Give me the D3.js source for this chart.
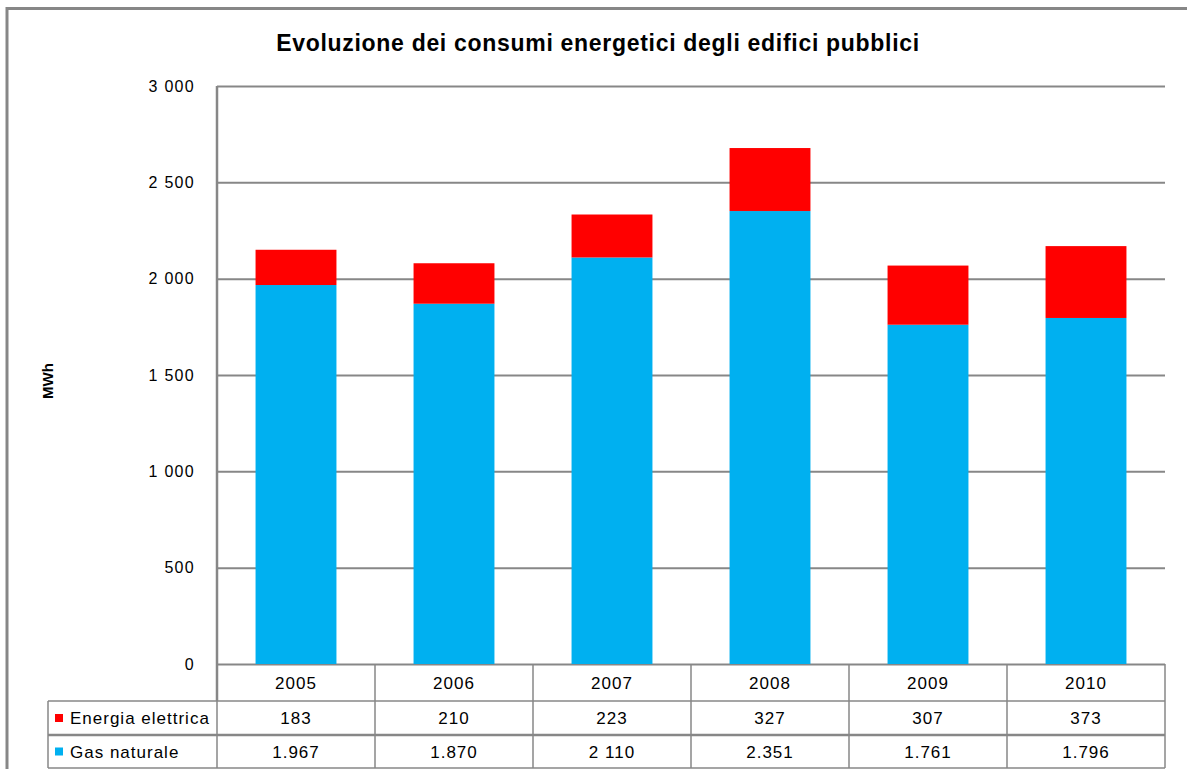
<!DOCTYPE html>
<html>
<head>
<meta charset="utf-8">
<script src="https://cdn.jsdelivr.net/npm/d3@7"></script>
<style>
	body { margin: 0; background: #fff; }
	svg { display: block; font-family: Arial, "Liberation Sans", sans-serif; }
	.tick-label { font-size: 16px; fill: #000; letter-spacing: 1.3px; }
	.cell-text { font-size: 17px; fill: #000; letter-spacing: 1px; }
</style>
</head>
<body>
<div class="chart"></div>
<script>
var years = ["2005", "2006", "2007", "2008", "2009", "2010"];
var elettrica = [183, 210, 223, 327, 307, 373];
var gas = [1967, 1870, 2110, 2351, 1761, 1796];
var elettricaLabels = ["183", "210", "223", "327", "307", "373"];
var gasLabels = ["1.967", "1.870", "2 110", "2.351", "1.761", "1.796"];
var seriesNames = ["Energia elettrica", "Gas naturale"];
var seriesColors = ["#ff0000", "#00b0f0"];
var yTicks = [0, 500, 1000, 1500, 2000, 2500, 3000];
var yTickLabels = ["0", "500", "1 000", "1 500", "2 000", "2 500", "3 000"];

var W = 1187, H = 769;
var plotLeft = 217, plotRight = 1165, plotTop = 86, plotBottom = 664;
var rowTops = [664, 701, 735, 768];
var legendLeft = 48;
var gridColor = "#878787";

drawChart();

function drawChart() {
	var svg = d3.select(".chart")
				.append("svg")
				.attr("width", W)
				.attr("height", H);

	// outer frame, cut by the picture edges
	svg.append("rect")
		.attr("x", 7)
		.attr("y", 8.5)
		.attr("width", W + 20)
		.attr("height", H + 20)
		.attr("fill", "none")
		.attr("stroke", gridColor)
		.attr("stroke-width", 3);

	svg.append("text")
		.attr("x", 598)
		.attr("y", 51)
		.attr("text-anchor", "middle")
		.style("font-size", "23px")
		.style("font-weight", "bold")
		.style("letter-spacing", "0.7px")
		.text("Evoluzione dei consumi energetici degli edifici pubblici");

	var x = d3.scaleBand().domain(years).range([plotLeft, plotRight]).padding(0);
	var y = d3.scaleLinear().domain([0, 3000]).range([plotBottom, plotTop]);

	// gridlines + tick labels
	var yAxis = d3.axisLeft(y)
				.tickValues(yTicks)
				.tickSize(-(plotRight - plotLeft))
				.tickPadding(22)
				.tickFormat(function(d, i) { return yTickLabels[i]; });

	var axisG = svg.append("g")
				.attr("transform", "translate(" + plotLeft + ",0)")
				.call(yAxis);
	axisG.select(".domain").remove();
	axisG.selectAll(".tick line")
		.attr("stroke", gridColor)
		.attr("stroke-width", 2);
	axisG.selectAll(".tick text")
		.attr("class", "tick-label")
		.attr("dy", "0.32em");
	axisG.attr("font-family", null).attr("font-size", null);

	svg.append("text")
		.attr("transform", "translate(53," + 381 + ") rotate(-90)")
		.attr("text-anchor", "middle")
		.style("font-size", "15px")
		.style("font-weight", "bold")
		.text("MWh");

	// stacked bars
	var barInset = x.bandwidth() * 0.244;
	var barWidth = x.bandwidth() - 2 * barInset;
	for (var i = 0; i < years.length; i++) {
		var x0 = x(years[i]) + barInset;
		svg.append("rect")
			.attr("x", x0)
			.attr("y", y(gas[i]))
			.attr("width", barWidth)
			.attr("height", y(0) - y(gas[i]))
			.attr("fill", seriesColors[1]);
		svg.append("rect")
			.attr("x", x0)
			.attr("y", y(gas[i] + elettrica[i]))
			.attr("width", barWidth)
			.attr("height", y(gas[i]) - y(gas[i] + elettrica[i]))
			.attr("fill", seriesColors[0]);
	}

	// left axis line down through the year row
	svg.append("line")
		.attr("x1", plotLeft).attr("x2", plotLeft)
		.attr("y1", plotTop).attr("y2", rowTops[1])
		.attr("stroke", gridColor)
		.attr("stroke-width", 2.5);

	drawTable(svg, x);
}

function drawTable(svg, x) {
	var lineAttr = function(sel, w) {
		sel.attr("stroke", gridColor).attr("stroke-width", w || 1.5);
	};

	// horizontal rules
	svg.append("line").attr("x1", legendLeft).attr("x2", plotRight)
		.attr("y1", rowTops[1]).attr("y2", rowTops[1]).call(lineAttr);
	svg.append("line").attr("x1", legendLeft).attr("x2", plotRight)
		.attr("y1", rowTops[2]).attr("y2", rowTops[2]).call(lineAttr, 2.5);
	svg.append("line").attr("x1", legendLeft).attr("x2", plotRight)
		.attr("y1", rowTops[3]).attr("y2", rowTops[3]).call(lineAttr);

	// vertical rules
	svg.append("line").attr("x1", legendLeft).attr("x2", legendLeft)
		.attr("y1", rowTops[1]).attr("y2", rowTops[3]).call(lineAttr);
	svg.append("line").attr("x1", plotLeft).attr("x2", plotLeft)
		.attr("y1", rowTops[1]).attr("y2", rowTops[3]).call(lineAttr);
	for (var i = 0; i < years.length; i++) {
		var xr = x(years[i]) + x.bandwidth();
		svg.append("line").attr("x1", xr).attr("x2", xr)
			.attr("y1", rowTops[0]).attr("y2", rowTops[3]).call(lineAttr);
	}

	var rows = [years, elettricaLabels, gasLabels];
	for (var r = 0; r < rows.length; r++) {
		var cy = (rowTops[r] + rowTops[r + 1]) / 2;
		for (var c = 0; c < years.length; c++) {
			svg.append("text")
				.attr("class", "cell-text")
				.attr("x", x(years[c]) + x.bandwidth() / 2)
				.attr("y", cy)
				.attr("dy", "0.36em")
				.attr("text-anchor", "middle")
				.text(rows[r][c]);
		}
	}

	// legend keys
	for (var s = 0; s < seriesNames.length; s++) {
		var cy2 = (rowTops[s + 1] + rowTops[s + 2]) / 2;
		svg.append("rect")
			.attr("x", 55)
			.attr("y", cy2 - 4)
			.attr("width", 8)
			.attr("height", 8)
			.attr("fill", seriesColors[s]);
		svg.append("text")
			.attr("class", "cell-text")
			.attr("x", 70)
			.attr("y", cy2)
			.attr("dy", "0.36em")
			.text(seriesNames[s]);
	}
}
</script>
</body>
</html>
